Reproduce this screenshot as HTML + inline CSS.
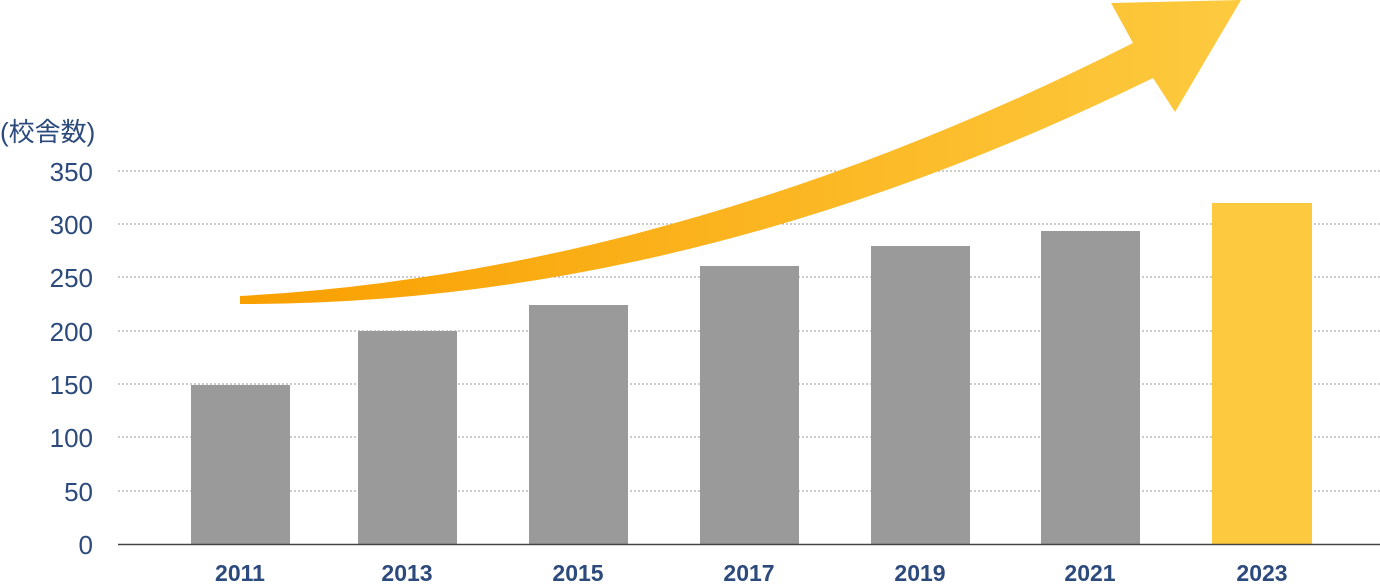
<!DOCTYPE html>
<html><head><meta charset="utf-8"><style>
body{margin:0;background:#fff;}
svg{display:block;}
text{font-family:"Liberation Sans","Noto Sans CJK JP",sans-serif;fill:#2c4a7c;}
</style></head><body>
<svg width="1380" height="588" viewBox="0 0 1380 588">
<defs>
<linearGradient id="g" x1="240" y1="0" x2="1240" y2="0" gradientUnits="userSpaceOnUse">
<stop offset="0" stop-color="#f99f00"/><stop offset="1" stop-color="#fdca3f"/>
</linearGradient>
</defs>
<g stroke="#999" stroke-width="1" stroke-dasharray="2,2">
<line x1="118" y1="171" x2="1380" y2="171"/>
<line x1="118" y1="224" x2="1380" y2="224"/>
<line x1="118" y1="277" x2="1380" y2="277"/>
<line x1="118" y1="331" x2="1380" y2="331"/>
<line x1="118" y1="384" x2="1380" y2="384"/>
<line x1="118" y1="437" x2="1380" y2="437"/>
<line x1="118" y1="491" x2="1380" y2="491"/>
</g>
<g fill="#9a9a9a">
<rect x="191" y="385" width="99" height="159"/>
<rect x="358" y="331" width="99" height="213"/>
<rect x="529" y="305" width="99" height="239"/>
<rect x="700" y="266" width="99" height="278"/>
<rect x="871" y="246" width="99" height="298"/>
<rect x="1041" y="231" width="99" height="313"/>
</g>
<rect x="1212" y="203" width="100" height="341" fill="#fdca3f"/>
<line x1="118" y1="544.5" x2="1380" y2="544.5" stroke="#444" stroke-width="1.5"/>
<path d="M240,296 Q680,272 1133,43 L1111,3 L1241,0 L1175,112 L1153,78 Q690,305 240,304 Z" fill="url(#g)"/>
<g font-size="26" text-anchor="end">
<text x="93" y="181">350</text>
<text x="93" y="234">300</text>
<text x="93" y="287">250</text>
<text x="93" y="341">200</text>
<text x="93" y="394">150</text>
<text x="93" y="447">100</text>
<text x="93" y="501">50</text>
<text x="93" y="554">0</text>
</g>
<text x="0" y="141" font-size="26">(校舎数)</text>
<g font-size="23" font-weight="bold" text-anchor="middle">
<text x="240" y="581">2011</text>
<text x="407" y="581">2013</text>
<text x="578" y="581">2015</text>
<text x="749" y="581">2017</text>
<text x="920" y="581">2019</text>
<text x="1090" y="581">2021</text>
<text x="1262" y="581">2023</text>
</g>
</svg>
</body></html>
